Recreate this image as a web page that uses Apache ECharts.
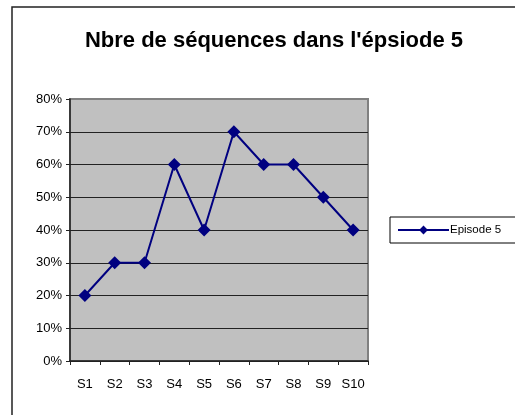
<!DOCTYPE html>
<html><head><meta charset="utf-8">
<script src="https://cdn.jsdelivr.net/npm/echarts@6/dist/echarts.min.js"></script>
<style>html,body{margin:0;padding:0;background:#fff}#c{width:515px;height:415px}</style>
</head><body><div id="c"></div>
<script>
const categories = ['S1','S2','S3','S4','S5','S6','S7','S8','S9','S10'];
const episode5 = [20, 30, 30, 60, 40, 70, 60, 60, 50, 40];
const seriesName = 'Episode 5';
const titleText = "Nbre de séquences dans l'épsiode 5";

const chart = echarts.init(document.getElementById('c'), null, {renderer: 'canvas'});
chart.setOption({
  animation: false,
  backgroundColor: '#fff',
  textStyle: {fontFamily: 'Liberation Sans, Arial, sans-serif'},
  title: {
    text: titleText, left: 269, top: 25, textAlign: 'center',
    textStyle: {fontSize: 22, fontWeight: 'bold', color: '#000', fontFamily: 'Liberation Sans, Arial, sans-serif'}
  },
  graphic: [{
    type: 'rect', shape: {x: 12, y: 7, width: 530, height: 430},
    style: {fill: 'none', stroke: '#222', lineWidth: 1.5}, silent: true, z: 100
  }],
  legend: {
    left: 390, top: 217,
    data: [seriesName],
    backgroundColor: '#fff', borderColor: '#000', borderWidth: 1,
    padding: [7, 40, 7, 7],
    itemWidth: 51, itemHeight: 11, itemGap: 2,
    textStyle: {fontSize: 11.5, color: '#000', padding: [0, 0, 0, -4]}
  },
  grid: {
    left: 70, top: 99, right: 147, bottom: 54,
    show: true, backgroundColor: '#C0C0C0', borderColor: '#808080', borderWidth: 2
  },
  xAxis: {
    type: 'category', data: categories, boundaryGap: true,
    axisLine: {lineStyle: {color: '#222', width: 1.5}},
    axisTick: {show: true, length: 4, interval: 0, alignWithLabel: false, lineStyle: {color: '#222'}},
    axisLabel: {fontSize: 13, color: '#000', margin: 17, interval: 0}
  },
  yAxis: {
    type: 'value', min: 0, max: 80, interval: 10,
    axisLine: {show: true, lineStyle: {color: '#222', width: 1.5}},
    axisTick: {show: true, length: 4, lineStyle: {color: '#222'}},
    axisLabel: {fontSize: 13, color: '#000', margin: 8, formatter: '{value}%'},
    splitLine: {show: true, lineStyle: {color: ['#222','#222','#222','#222','#222','#222','#222','#222','#808080'], width: 1}}
  },
  series: [{
    name: seriesName, type: 'line', data: episode5,
    symbol: 'diamond', symbolSize: 13,
    lineStyle: {color: '#000080', width: 2},
    itemStyle: {color: '#000080'}
  }]
});
</script></body></html>
